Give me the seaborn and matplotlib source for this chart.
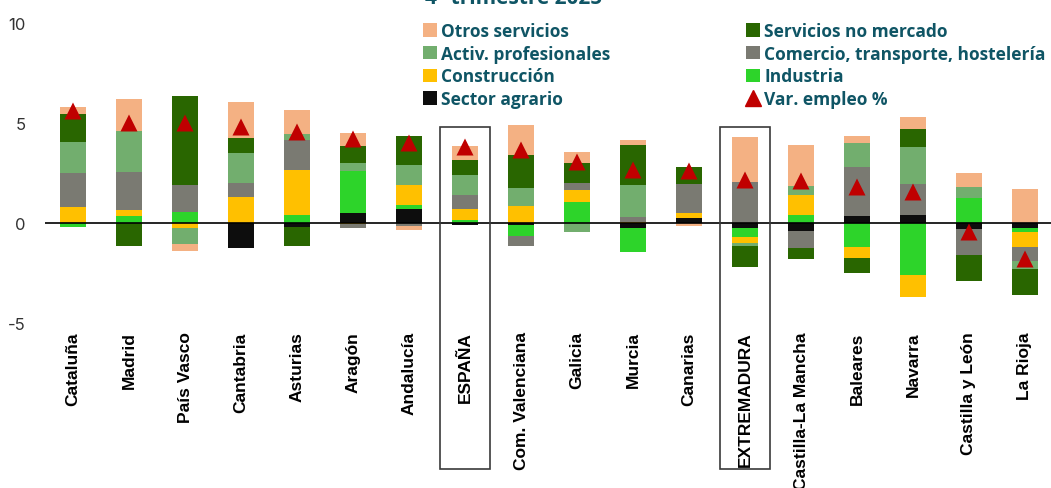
import matplotlib
matplotlib.use("Agg")
import matplotlib.pyplot as plt
import seaborn as sns
import numpy as np
from matplotlib.patches import Patch, Rectangle
from matplotlib.lines import Line2D

sns.set_theme(style="white")

# -------------------------------
# Datos (puntos porcentuales)
# -------------------------------
regiones = ["Cataluña", "Madrid", "País Vasco", "Cantabria", "Asturias", "Aragón",
            "Andalucía", "ESPAÑA", "Com. Valenciana", "Galicia", "Murcia", "Canarias",
            "EXTREMADURA", "Castilla-La Mancha", "Baleares", "Navarra",
            "Castilla y León", "La Rioja"]

agrario      = [0.00, 0.00, 0.00, -1.23, -0.22, 0.50, 0.70, -0.08, -0.08, 0.00, -0.27, 0.23, -0.25, -0.38, 0.37, 0.40, -0.30, -0.27]
industria    = [-0.22, 0.37, 0.53, 0.00, 0.40, 2.08, 0.22, 0.15, -0.55, 1.03, -1.20, 0.00, -0.43, 0.42, -1.22, -2.60, 1.23, -0.17]
construccion = [0.78, 0.27, -0.27, 1.32, 2.25, -0.03, 1.00, 0.53, 0.83, 0.60, 0.05, 0.28, -0.32, 0.98, -0.53, -1.12, 0.00, -0.75]
comercio     = [1.72, 1.92, 1.37, 0.68, 1.52, -0.22, -0.13, 0.73, -0.52, 0.37, 0.27, 1.42, 2.05, -0.88, 2.42, 1.53, -1.30, -0.70]
activ_prof   = [1.53, 2.05, -0.78, 1.48, 0.28, 0.42, 0.97, 0.97, 0.90, -0.43, 1.58, 0.00, -0.17, 0.47, 1.22, 1.88, 0.57, -0.42]
serv_no_merc = [1.42, -1.17, 4.47, 0.78, -0.92, 0.83, 1.48, 0.75, 1.67, 1.02, 2.02, 0.85, -1.02, -0.53, -0.77, 0.88, -1.30, -1.28]
otros_serv   = [0.37, 1.58, -0.33, 1.77, 1.20, 0.67, -0.22, 0.73, 1.50, 0.52, 0.25, -0.15, 2.27, 2.03, 0.32, 0.60, 0.68, 1.70]
var_empleo   = [5.6, 5.0, 5.0, 4.8, 4.55, 4.2, 4.0, 3.8, 3.65, 3.05, 2.65, 2.6, 2.15, 2.1, 1.8, 1.55, -0.45, -1.8]

sectores = [
    ("Sector agrario", agrario, "#0d0d0d"),
    ("Industria", industria, "#2dd42a"),
    ("Construcción", construccion, "#ffc000"),
    ("Comercio, transporte, hostelería", comercio, "#7a7a72"),
    ("Activ. profesionales", activ_prof, "#72ae6e"),
    ("Servicios no mercado", serv_no_merc, "#296600"),
    ("Otros servicios", otros_serv, "#f4b183"),
]

TEAL = "#0f5565"

# -------------------------------
# Figura
# -------------------------------
fig = plt.figure(figsize=(10.51, 4.89), dpi=100)
ax = fig.add_axes([45 / 1051, 165 / 489, 1008 / 1051, 300 / 489])

pos_base = np.zeros(len(regiones))
neg_base = np.zeros(len(regiones))
for nombre, vals, color in sectores:
    v = np.array(vals)
    base = np.where(v >= 0, pos_base, neg_base)
    ax.bar(regiones, v, bottom=base, width=0.45, color=color, linewidth=0, zorder=2)
    pos_base += np.where(v >= 0, v, 0)
    neg_base += np.where(v < 0, v, 0)

sns.scatterplot(x=regiones, y=var_empleo, marker="^", s=150, color="#c00000",
                edgecolor="none", ax=ax, zorder=5, legend=False)

ax.axhline(0, color="black", lw=1.2, zorder=3)
ax.set_ylim(-5, 10)
ax.set_xlim(-0.5, 17.5)
ax.set_yticks([-5, 0, 5, 10])
ax.set_yticklabels(["-5", "0", "5", "10"], fontsize=12, color="#333333", family="Inter")
ax.tick_params(axis="y", length=0, pad=14)
ax.tick_params(axis="x", length=0, pad=6)
for lab in ax.get_xticklabels():
    lab.set_rotation(90)
    lab.set_fontsize(12.5)
    lab.set_fontweight("bold")
    lab.set_family("Liberation Sans")
    lab.set_color("black")
for s in ax.spines.values():
    s.set_visible(False)
ax.grid(False)

# recuadros ESPAÑA / EXTREMADURA
for idx in (regiones.index("ESPAÑA"), regiones.index("EXTREMADURA")):
    ax.add_patch(Rectangle((idx - 0.45, -12.3), 0.9, 17.1, fill=False,
                           edgecolor="#3a3a3a", lw=1.2, clip_on=False, zorder=4))

# título (cortado en el original)
fig.text(425 / 1051, 1 - 4 / 489, "4º trimestre 2025", ha="left", va="baseline",
         fontsize=15, fontweight="bold", color=TEAL, family="Open Sans")

# leyenda
colores = {n: c for n, _, c in sectores}
orden = ["Otros servicios", "Activ. profesionales", "Construcción", "Sector agrario",
         "Servicios no mercado", "Comercio, transporte, hostelería", "Industria"]
handles = [Patch(facecolor=colores[n], edgecolor="none") for n in orden]
handles.append(Line2D([], [], marker="^", color="#c00000", linestyle="none", markersize=11))
labels = orden + ["Var. empleo %"]
fig.legend(handles, labels, ncol=2, loc="upper left",
           bbox_to_anchor=(423 / 1051, 1 - 23 / 489), frameon=False,
           prop={"weight": "bold", "size": 12.5, "family": "Open Sans"}, labelcolor=TEAL,
           handlelength=0.8, handleheight=0.8, handletextpad=0.25,
           columnspacing=7.8, labelspacing=0.27, borderaxespad=0, borderpad=0)

fig.savefig("out.png", dpi=100)
